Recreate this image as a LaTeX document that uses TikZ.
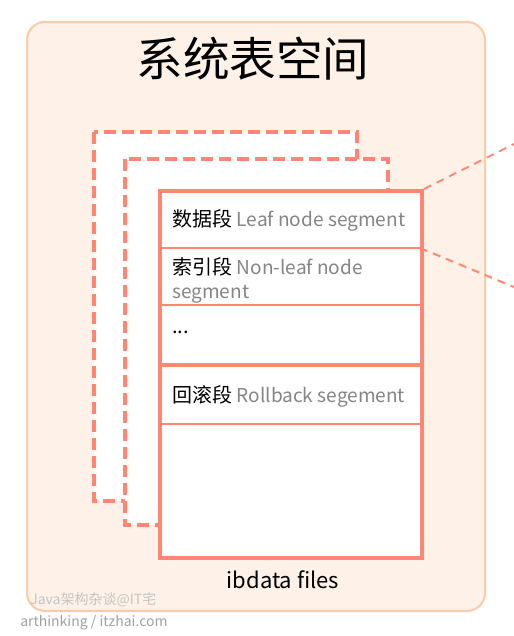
\documentclass[tikz,border=0pt]{standalone}
\usepackage{fontspec}
\setmainfont{Noto Sans CJK SC}
\usetikzlibrary{positioning}
\definecolor{salmon}{HTML}{FF8672}
\definecolor{peach}{HTML}{FEF1E7}
\definecolor{peachline}{HTML}{F9CBA8}
\definecolor{txtgray}{HTML}{858585}
\definecolor{markgray}{HTML}{C4C4C4}
\definecolor{urlgray}{HTML}{A0A0A0}
\newcommand{\engl}[1]{{\fontsize{14.3}{18}\selectfont\color{txtgray}#1}}

\begin{document}
\begin{tikzpicture}[
  x=0.75pt, y=-0.75pt,
  filebox/.style={draw=salmon, line width=3pt, fill=white},
  backfile/.style={filebox, dash pattern=on 9pt off 4.5pt},
  rowsep/.style={draw=salmon, line width=#1},
  rowsep/.default=1.5pt,
  rowtext/.style={anchor=west, font=\fontsize{15}{18}\selectfont, inner sep=0pt, align=left},
  zoomline/.style={draw=salmon, line width=1.5pt, dash pattern=on 6pt off 4.5pt},
]

% Canvas
\useasboundingbox (0,0) rectangle (514,636);

% Background
\draw[peachline, fill=peach, line width=1.5pt, rounded corners=13.5pt]
  (27,22) rectangle (485,611);

% Title
\node[font=\fontsize{35}{40}\selectfont] (title) at (253,59) {系统表空间};

% =============================================
% Stacked files
% =============================================
\draw[backfile] (94,132) rectangle (357,501);
\draw[backfile] (125,159) rectangle (388,525);
\node[filebox, anchor=north west, minimum width=196.5pt, minimum height=275.25pt]
  (ibdata) at (158,189) {};

% Row separators
\draw[rowsep] (158,248) -- (420,248);
\draw[rowsep] (158,305) -- (420,305);
\draw[rowsep=3pt] (158,365) -- (420,365);
\draw[rowsep] (158,424) -- (420,424);

% Segments
\node[rowtext] (leaf) at (172,220)
  {数据段 \engl{Leaf node segment}};
\node[rowtext, anchor=north west] (nonleaf) at (172,257)
  {索引段 \engl{Non-leaf node}\\\engl{segment}};
\node[rowtext] (more) at (172,332) {...};
\node[rowtext] (rollback) at (172,396)
  {回滚段 \engl{Rollback segement}};

% File label
\node[font=\fontsize{16.5}{19}\selectfont] (files) at (283,580) {ibdata files};

% Zoom lines
\coordinate (zoomtop) at (514,144);
\coordinate (zoombot) at (514,287);
\draw[zoomline] (ibdata.north east) -- (zoomtop);
\draw[zoomline] (420,248) -- (zoombot);

% Watermark
\node[font=\fontsize{10.5}{12}\selectfont, text=markgray, anchor=west, inner sep=0pt]
  (mark) at (30,600) {Java架构杂谈@IT宅};
\node[font=\fontsize{10.5}{12}\selectfont, text=urlgray, anchor=west, inner sep=0pt]
  (url) at (20,623) {arthinking / itzhai.com};

\end{tikzpicture}
\end{document}
